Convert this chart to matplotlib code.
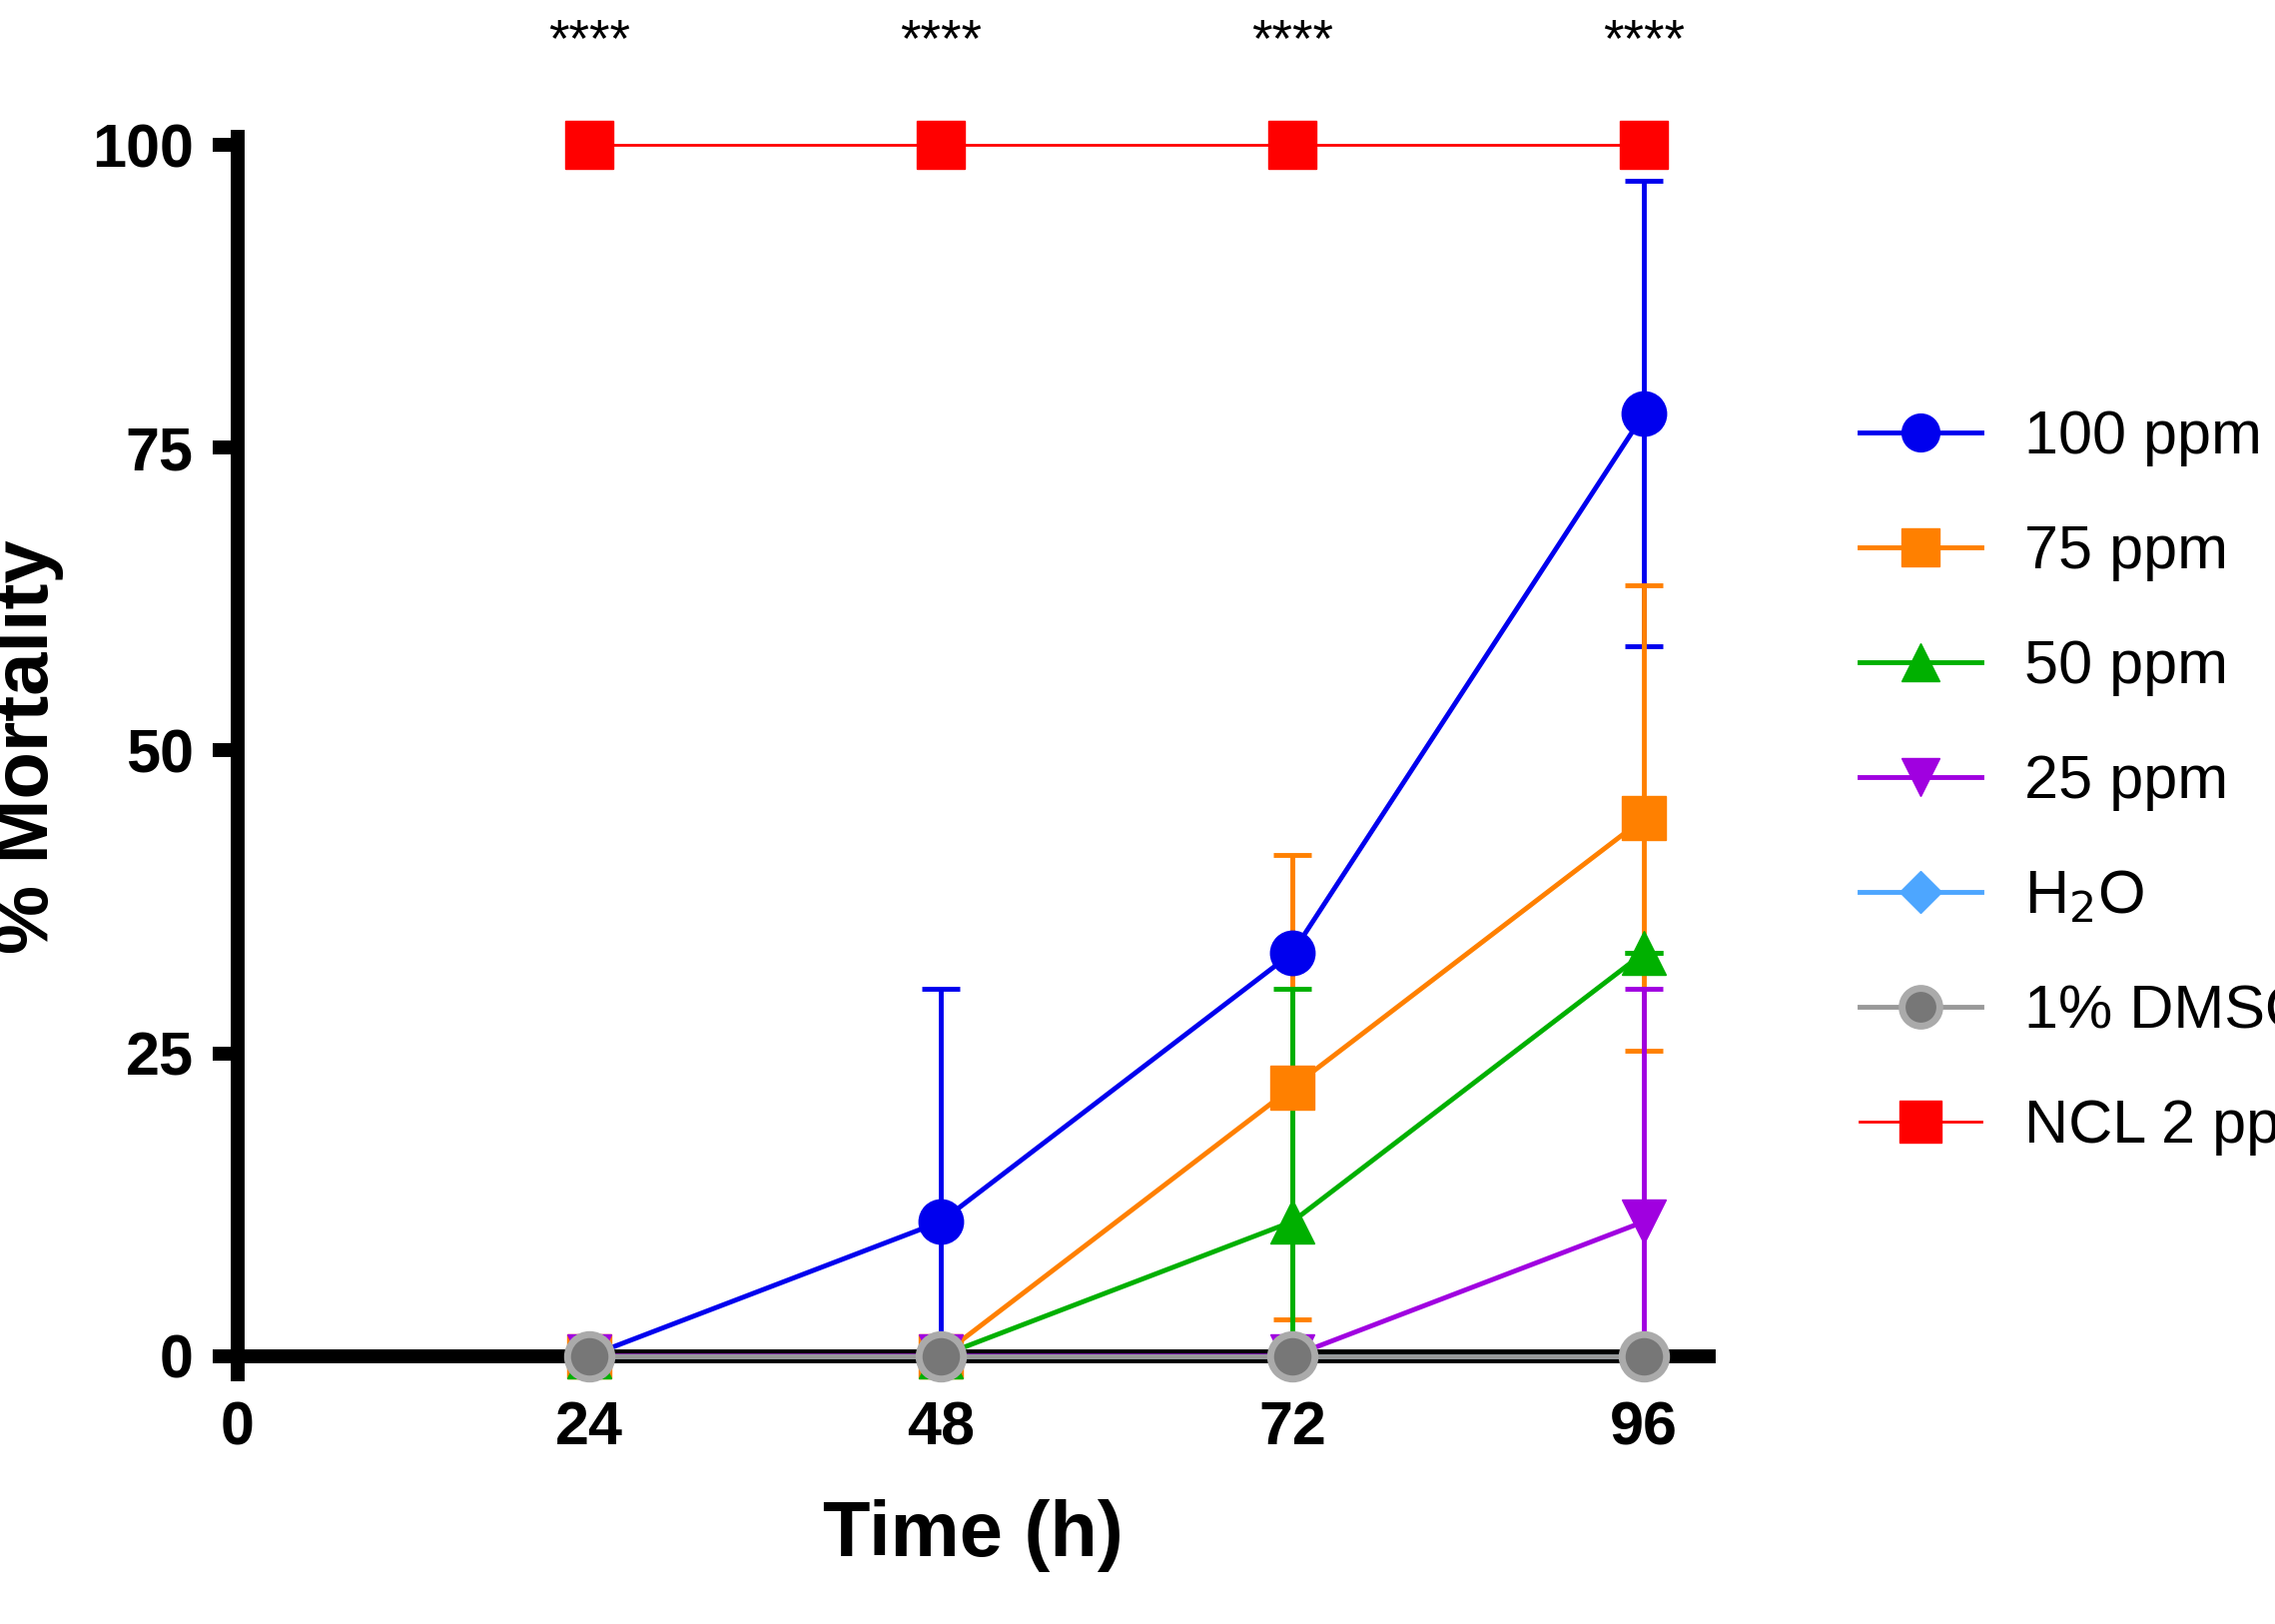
import matplotlib
matplotlib.use("Agg")
import matplotlib.pyplot as plt

time = [24, 48, 72, 96]
s100 = [0, 11.1, 33.3, 77.8]; e100 = [0, 19.2, 0, 19.2]
s75 = [0, 0, 22.2, 44.4]; e75 = [0, 0, 19.2, 19.2]
s50 = [0, 0, 11.1, 33.3]; e50 = [0, 0, 19.2, 0]
s25 = [0, 0, 0, 11.1]; e25 = [0, 0, 0, 19.2]
h2o = [0, 0, 0, 0]
dmso = [0, 0, 0, 0]
ncl = [100, 100, 100, 100]
stars = ["****", "****", "****", "****"]

plt.rcParams["font.family"] = ["Liberation Sans Narrow", "Liberation Sans", "DejaVu Sans"]
fig = plt.figure(figsize=(22.78, 16.26), dpi=100)
ax = fig.add_axes([0.1045, 0.165, 0.6465, 0.751])

ms = 32
lw = 3.5
series = [
    ("100 ppm", s100, e100, "#0000ee", "o"),
    ("75 ppm", s75, e75, "#ff8000", "s"),
    ("50 ppm", s50, e50, "#00b000", "^"),
    ("25 ppm", s25, e25, "#a000e0", "v"),
]
handles = []
for lab, y, e, c, m in series:
    ax.errorbar(time, y, yerr=[[min(v, ee) for v, ee in zip(y, e)], e], color=c, lw=lw,
                capsize=14, capthick=lw, elinewidth=lw, clip_on=False, zorder=3, fmt="none")
    h, = ax.plot(time, y, color=c, marker=m, ms=ms, lw=lw, label=lab, clip_on=False, zorder=4)
    handles.append(h)
h, = ax.plot(time, h2o, color="#4da6ff", marker="D", ms=ms*0.8, lw=lw, label="H$_2$O", clip_on=False, zorder=4)
handles.append(h)
h, = ax.plot(time, dmso, color="#999999", marker="o", ms=ms, lw=lw, mfc="#777777", mec="#aaaaaa", mew=5,
             label="1% DMSO", clip_on=False, zorder=4)
handles.append(h)
h, = ax.plot(time, ncl, color="#ff0000", marker="s", ms=ms*1.1, lw=2, label="NCL 2 ppm", clip_on=False, zorder=4)
handles.append(h)

for x, s in zip(time, stars):
    ax.text(x, 108.5, s, ha="center", va="center", fontsize=38)

ax.set_xlim(0, 100.4)
ax.set_ylim(0, 100.7)
ax.set_xticks([0, 24, 48, 72, 96])
ax.set_yticks([0, 25, 50, 75, 100])
for sp in ["top", "right"]:
    ax.spines[sp].set_visible(False)
for sp in ["left", "bottom"]:
    ax.spines[sp].set_linewidth(10)
ax.tick_params(width=10, length=18, labelsize=44, pad=14)
for t in ax.get_xticklabels() + ax.get_yticklabels():
    t.set_fontweight("bold")
ax.set_xlabel("Time (h)", fontsize=56, fontweight="bold", labelpad=30)
ax.set_ylabel("% Mortality", fontsize=56, fontweight="bold", labelpad=20)
ax.legend(handles=handles, loc="center left", bbox_to_anchor=(1.065, 0.47), frameon=False,
          fontsize=44, labelspacing=0.95, handlelength=2.0, handletextpad=0.7, markerscale=0.85)
fig.savefig("out.png", dpi=100)
